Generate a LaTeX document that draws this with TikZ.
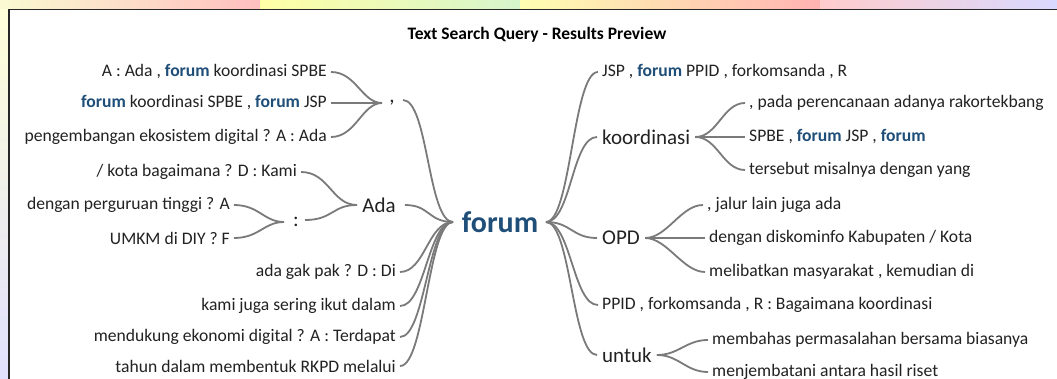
\documentclass[tikz,border=0pt]{standalone}
\usepackage{fontspec}
\setmainfont{Carlito}
\usepackage{xcolor}
\usetikzlibrary{positioning}
\definecolor{fblue}{HTML}{1F4E79}
\definecolor{linkgray}{HTML}{7A7A7A}
\definecolor{txt}{HTML}{222222}
\newcommand{\fw}{\textcolor{fblue}{\textbf{forum}}}

\begin{document}
\begin{tikzpicture}[x=1pt,y=-1pt,
    leaf/.style={font=\fontsize{17.6}{19}\selectfont, text=txt, inner sep=4pt},
    hub/.style={font=\fontsize{21}{23}\selectfont, text=txt, inner sep=5pt},
    link/.style={draw=linkgray, line width=1.8pt}]
  \useasboundingbox (0,0) rectangle (1057,379);
  % background behind the panel
  \shade[left color=blue!10!yellow!20, right color=red!25] (0,0) rectangle (260,9.5);
  \shade[left color=yellow!35, right color=red!20!green!20] (260,0) rectangle (520,9.5);
  \shade[left color=yellow!30, right color=red!30] (520,0) rectangle (820,9.5);
  \shade[left color=red!20, right color=blue!15] (820,0) rectangle (1057,9.5);
  \shade[top color=yellow!15, bottom color=blue!12] (0,9.5) rectangle (9,379);
  \fill[white] (9,9.5) rectangle (1060,382);
  \draw[line width=1.3pt, black!85] (9,385) -- (9,9.5) -- (1060,9.5);

  \node[font=\fontsize{17.5}{19}\selectfont\bfseries, text=black] (title) at (537,35) {Text Search Query - Results Preview};

  % centre
  \node[font=\fontsize{30}{32}\selectfont\bfseries, text=fblue] (forum) at (500,222) {forum};

  % left side
  \node[hub] (comma) at (392,103) {,};
  \node[leaf, anchor=east] (c1) at (331,72) {A : Ada , \fw{} koordinasi SPBE};
  \node[leaf, anchor=east] (c2) at (331,103) {\fw{} koordinasi SPBE , \fw{} JSP};
  \node[leaf, anchor=east] (c3) at (331,137) {pengembangan ekosistem digital ? A : Ada};
  \node[hub] (ada) at (379,205) {Ada};
  \node[leaf, anchor=east] (a1) at (301,172) {/ kota bagaimana ? D : Kami};
  \node[hub] (colon) at (296,222) {:};
  \node[leaf, anchor=east] (d1) at (234,205) {dengan perguruan tinggi ? A};
  \node[leaf, anchor=east] (d2) at (234,238) {UMKM di DIY ? F};
  \node[leaf, anchor=east] (l1) at (400,272) {ada gak pak ? D : Di};
  \node[leaf, anchor=east] (l2) at (400,306) {kami juga sering ikut dalam};
  \node[leaf, anchor=east] (l3) at (400,337) {mendukung ekonomi digital ? A : Terdapat};
  \node[leaf, anchor=east] (l4) at (400,366) {tahun dalam membentuk RKPD melalui};

  % right side
  \node[leaf, anchor=west] (r1) at (598,72) {JSP , \fw{} PPID , forkomsanda , R};
  \node[hub, anchor=west] (koor) at (597,137) {koordinasi};
  \node[leaf, anchor=west] (k1) at (745,103) {, pada perencanaan adanya rakortekbang};
  \node[leaf, anchor=west] (k2) at (745,137) {SPBE , \fw{} JSP , \fw};
  \node[leaf, anchor=west] (k3) at (745,170) {tersebut misalnya dengan yang};
  \node[hub, anchor=west] (opd) at (597,238) {OPD};
  \node[leaf, anchor=west] (o1) at (703,205) {, jalur lain juga ada};
  \node[leaf, anchor=west] (o2) at (705,238) {dengan diskominfo Kabupaten / Kota};
  \node[leaf, anchor=west] (o3) at (705,272) {melibatkan masyarakat , kemudian di};
  \node[leaf, anchor=west] (r4) at (598,305) {PPID , forkomsanda , R : Bagaimana koordinasi};
  \node[hub, anchor=west] (untuk) at (597,355) {untuk};
  \node[leaf, anchor=west] (u1) at (708,340) {membahas permasalahan bersama biasanya};
  \node[leaf, anchor=west] (u2) at (708,372) {menjembatani antara hasil riset};

  % connectors
  \coordinate (fl) at (453,222);
  \coordinate (fr) at (546,222);
  \coordinate (cin) at (382,103);
  \coordinate (cout) at (403,100);
  \coordinate (ain) at (357,205);
  \coordinate (aout) at (405,205);
  \coordinate (din) at (284,222);
  \coordinate (dout) at (305,220);
  \foreach \n in {c1,c2,c3}
    \draw[link] (\n.east) .. controls +(25,0) and +(-20,0) .. (cin);
  \foreach \n in {a1}
    \draw[link] (\n.east) .. controls +(28,0) and +(-25,0) .. (ain);
  \draw[link] (dout) .. controls +(28,0) and +(-25,0) .. (ain);
  \foreach \n in {d1,d2}
    \draw[link] (\n.east) .. controls +(25,0) and +(-20,0) .. (din);
  \foreach \n in {cout,aout}
    \draw[link] (\n) .. controls +(25,0) and +(-25,0) .. (fl);
  \foreach \n in {l1,l2,l3,l4}
    \draw[link] (\n.east) .. controls +(25,0) and +(-25,0) .. (fl);
  \foreach \n in {r1,koor,opd,r4,untuk}
    \draw[link] (fr) .. controls +(25,0) and +(-25,0) .. (\n.west);
  \foreach \n in {k1,k2,k3}
    \draw[link] (koor.east) .. controls +(22,0) and +(-22,0) .. (\n.west);
  \foreach \n in {o1,o2,o3}
    \draw[link] (opd.east) .. controls +(22,0) and +(-22,0) .. (\n.west);
  \foreach \n in {u1,u2}
    \draw[link] (untuk.east) .. controls +(22,0) and +(-22,0) .. (\n.west);
\end{tikzpicture}
\end{document}
